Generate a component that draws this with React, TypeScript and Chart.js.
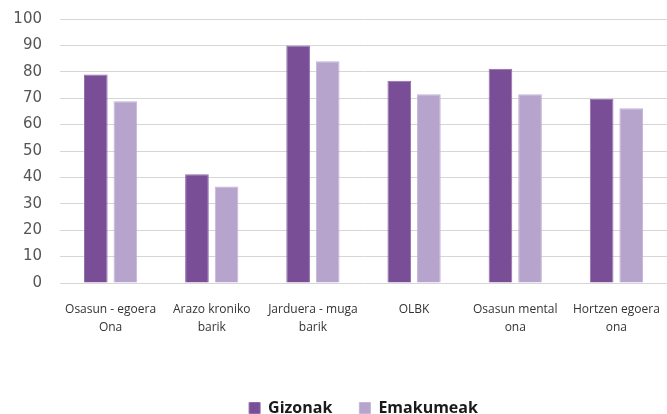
import React, { useEffect, useRef } from "react";
import { Chart, registerables } from "chart.js";

Chart.register(...registerables);

const categories: string[][] = [
  ["Osasun - egoera", "Ona"],
  ["Arazo kroniko", "barik"],
  ["Jarduera - muga", "barik"],
  ["OLBK"],
  ["Osasun mental", "ona"],
  ["Hortzen egoera", "ona"],
];
const gizonak = [79, 41.2, 90, 76.6, 81.2, 69.8];
const emakumeak = [68.8, 36.6, 84, 71.5, 71.5, 66.2];
const seriesNames = ["Gizonak", "Emakumeak"];
const yMin = 0;
const yMax = 100;
const yStep = 10;

export default function App() {
  const ref = useRef<HTMLCanvasElement | null>(null);
  useEffect(() => {
    if (!ref.current) return;
    const chart = new Chart(ref.current, {
      type: "bar",
      data: {
        labels: categories,
        datasets: [
          {
            label: seriesNames[0],
            data: gizonak,
            backgroundColor: "#7a4e96",
            borderColor: "#8f6cab",
            borderWidth: 1,
            categoryPercentage: 0.585,
            barPercentage: 0.8,
          },
          {
            label: seriesNames[1],
            data: emakumeak,
            backgroundColor: "#b6a4cd",
            borderColor: "#c4b4d8",
            borderWidth: 1,
            categoryPercentage: 0.585,
            barPercentage: 0.8,
          },
        ],
      },
      options: {
        animation: false,
        responsive: false,
        maintainAspectRatio: false,
        layout: { padding: { left: 0, right: 0, top: 19, bottom: -12 } },
        plugins: {
          tooltip: { enabled: false },
          legend: {
            position: "bottom",
            fullSize: false,
            labels: {
              boxWidth: 11,
              boxHeight: 11,
              padding: 27,
              color: "#1a1a1a",
              font: { family: "'Open Sans'", size: 16, weight: "bold" },
            },
          },
        },
        scales: {
          x: {
            grid: { display: false, drawTicks: false },
            border: { display: false },
            ticks: {
              color: "#333333",
              padding: 18,
              maxRotation: 0,
              autoSkip: false,
              font: { family: "'Open Sans'", size: 12, lineHeight: 1.5 },
            },
            afterFit: (s: any) => {
              s.height = 90;
              s.paddingLeft = 0;
              s.paddingRight = 0;
            },
          },
          y: {
            min: yMin,
            max: yMax,
            grid: { color: "#d6d6d6", lineWidth: 1, drawTicks: false },
            border: { display: false },
            ticks: {
              stepSize: yStep,
              padding: 18,
              color: "#555555",
              font: { family: "'DejaVu Sans'", size: 15 },
            },
            afterFit: (s: any) => {
              s.width = 60;
              s.paddingTop = 0;
              s.paddingBottom = 0;
            },
          },
        },
      },
    });
    return () => chart.destroy();
  }, []);
  return (
    <div style={{ position: "absolute", left: 0, top: 0, width: 667, height: 414 }}>
      <canvas ref={ref} width={667} height={414} style={{ width: 667, height: 414 }} />
    </div>
  );
}
